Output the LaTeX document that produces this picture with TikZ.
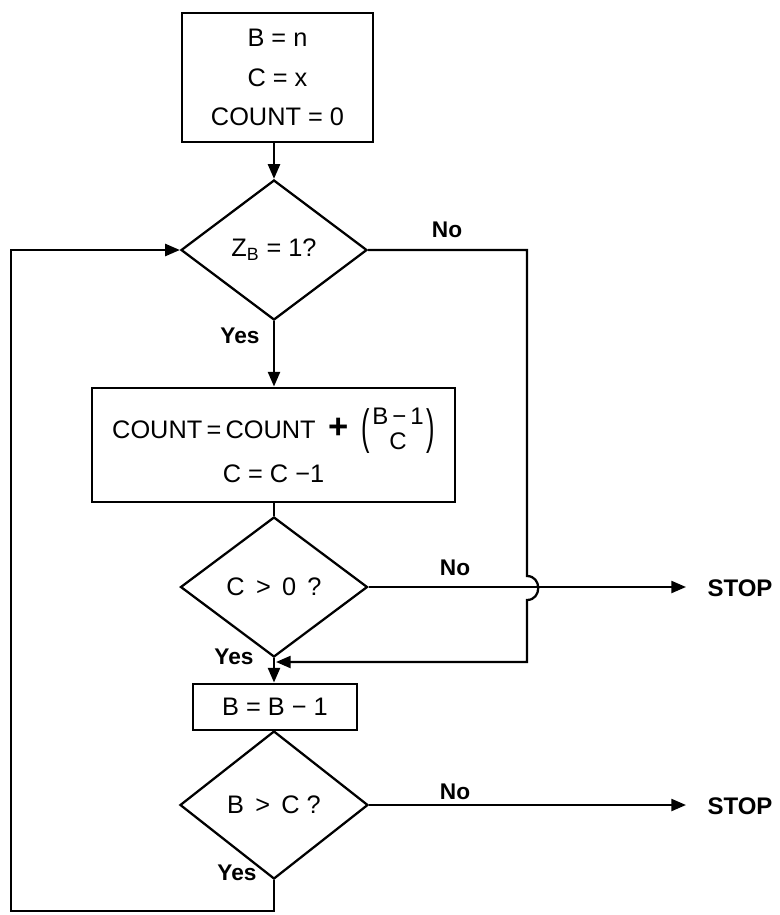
\documentclass[tikz,border=0pt]{standalone}
\usepackage{fontspec}
\usepackage{graphicx}
\setmainfont{Liberation Sans}
\usetikzlibrary{shapes.geometric,arrows.meta}
\begin{document}
\begin{tikzpicture}[x=0.75pt,y=-0.75pt,line width=1.7pt,
  txt/.style={font=\fontsize{19}{29.5}\selectfont},
  box/.style={draw,rectangle,inner sep=0pt,align=center,txt},
  dia/.style={draw,diamond,inner sep=0pt,txt},
  lbl/.style={font=\bfseries\fontsize{17}{20}\selectfont,inner sep=0pt},
  stoplbl/.style={font=\bfseries\fontsize{18}{20}\selectfont,inner sep=0pt},
  arr/.style={-{Triangle[length=11pt,width=9pt]}},
  lnk/.style={line join=miter}]
\useasboundingbox (0,0) rectangle (780,915);
\fill[white] (0,0) rectangle (780,915);

\node[box,minimum width=143pt,minimum height=97pt] (init) at (277.5,77.5)
  {B = n\\C = x\\COUNT = 0};
\node[dia,minimum width=139.5pt,minimum height=105pt] (d1) at (274,250)
  {Z\textsubscript{B} = 1?};
\node[box,minimum width=272pt,minimum height=86pt] (calc) at (273.5,445)
  {COUNT\,=\,COUNT\enspace{\bfseries\fontsize{26}{26}\selectfont +}\enspace\raisebox{-0.22em}{\scalebox{1}[1.9]{(}}\kern2pt\raisebox{-0.45em}{\fontsize{18}{18}\selectfont\renewcommand\arraystretch{1.05}\begin{tabular}[b]{@{}c@{}}B\,−\,1\\C\end{tabular}}\kern2pt\raisebox{-0.22em}{\scalebox{1}[1.9]{)}}\\[4pt]
   C = C −1};
\node[dia,minimum width=140.25pt,minimum height=105pt] (d2) at (274,587)
  {C \,>\, 0 \,?};
\node[box,minimum width=123pt,minimum height=35pt] (dec) at (275,707)
  {B = B − 1};
\node[dia,minimum width=141pt,minimum height=111pt] (d3) at (274,805)
  {B \,>\, C ?};
\node[stoplbl] (stop1) at (740,588) {STOP};
\node[stoplbl] (stop2) at (740,806) {STOP};

\node[lbl] (yes1) at (240,336) {Yes};
\node[lbl] (no1) at (447,230) {No};
\node[lbl] (no2) at (455,568) {No};
\node[lbl] (yes2) at (234,657) {Yes};
\node[lbl] (no3) at (455,792) {No};
\node[lbl] (yes3) at (237,873) {Yes};

\coordinate (r1) at (527,250);
\coordinate (h1) at (527,576);
\coordinate (h2) at (527,600);
\coordinate (r2) at (527,662);
\coordinate (jn) at (276,662);
\coordinate (b1) at (274,911);
\coordinate (b2) at (11,911);
\coordinate (b3) at (11,250);
\coordinate (t1) at (686,588);
\coordinate (t2) at (686,806);

\draw[arr] (init.south -| d1.north) -- (d1.north);
\draw[arr] (d1.south) -- (calc.north -| d1.south);
\draw (calc.south -| d2.north) -- (d2.north);
\draw[arr] (d2.south) -- (dec.north -| d2.south);
\draw (dec.south -| d3.north) -- (d3.north);
\draw[arr] (d2.east) -- (t1 |- d2.east);
\draw[arr] (d3.east) -- (t2 |- d3.east);
\draw[arr,lnk] (d1.east) -- (r1) -- (h1) .. controls (542,576) and (542,600) .. (h2) -- (r2) -- (jn);
\draw[arr,lnk] (d3.south) -- (b1) -- (b2) -- (b3) -- (d1.west);
\end{tikzpicture}
\end{document}
